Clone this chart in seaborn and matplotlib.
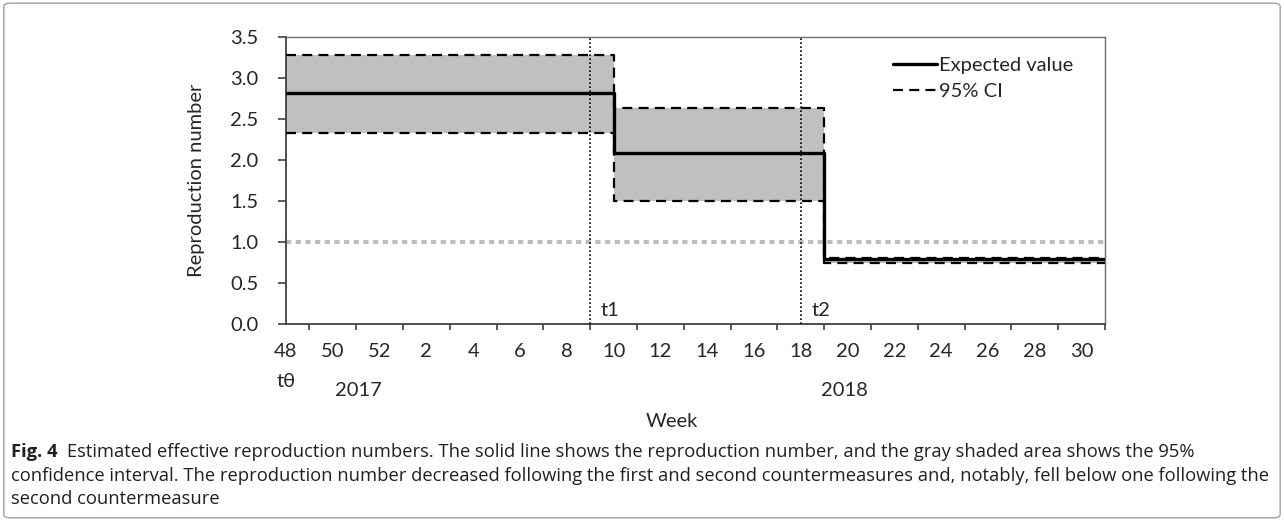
import numpy as np
import pandas as pd
import matplotlib
matplotlib.use("Agg")
import matplotlib.pyplot as plt
from matplotlib.patches import FancyBboxPatch
import seaborn as sns

# change points (year, week) and estimates for each period
period_starts = [(2017, 48), (2018, 10), (2018, 19)]
period_end = (2018, 31)
expected = [2.81, 2.08, 0.79]
ci_low = [2.33, 1.50, 0.74]
ci_high = [3.28, 2.63, 0.81]

# countermeasures
t1_week = (2018, 9)
t2_week = (2018, 18)

tick_labels = ["48", "50", "52", "2", "4", "6", "8", "10", "12", "14", "16",
               "18", "20", "22", "24", "26", "28", "30"]


def wpos(yw):
    # week index counted from week 48 of 2017 (2017 has 52 weeks)
    year, week = yw
    return week - 48 if year == 2017 else week + 4


xs = [wpos(p) for p in period_starts] + [wpos(period_end)]
df = pd.DataFrame({
    "x": xs,
    "exp": expected + expected[-1:],
    "lo": ci_low + ci_low[-1:],
    "hi": ci_high + ci_high[-1:],
})

sns.set_style("white")
plt.rcParams["font.family"] = ["Lato", "DejaVu Sans"]

fig = plt.figure(figsize=(12.84, 5.21), dpi=100)
ax = fig.add_axes([0.2227, 0.3781, 0.6379, 0.5514])

ax.fill_between(df["x"], df["lo"], df["hi"], step="post", color="#c0c0c0", lw=0, zorder=1)
ax.axhline(1.0, color="#bdbdbd", lw=2.9, ls=(0, (1.3, 1.1)), zorder=2)
for t in [t1_week, t2_week]:
    ax.axvline(wpos(t), color="black", lw=1.2, ls=(0, (1, 1.4)), zorder=3)

sns.lineplot(data=df, x="x", y="hi", drawstyle="steps-post", color="black", lw=1.6,
             ls=(0, (4.5, 2.8)), ax=ax, label="95% CI", zorder=4)
sns.lineplot(data=df, x="x", y="lo", drawstyle="steps-post", color="black", lw=1.6,
             ls=(0, (4.5, 2.8)), ax=ax, zorder=4)
sns.lineplot(data=df, x="x", y="exp", drawstyle="steps-post", color="black", lw=2.4,
             ax=ax, label="Expected value", zorder=5)

ax.set_xlim(0, wpos(period_end))
ax.set_ylim(0, 3.5)
ax.set_xticks(np.arange(0, 35, 2))
ax.set_xticklabels(tick_labels)
ax.set_xticks(np.arange(0, 36, 1), minor=True)
ax.set_yticks(np.arange(0, 3.51, 0.5))
ax.set_yticklabels([f"{v:.1f}" for v in np.arange(0, 3.51, 0.5)])
ax.tick_params(axis="both", labelsize=14.5, colors="#262626", direction="out")
ax.tick_params(axis="x", which="major", length=6, width=1.2, pad=8, color="#404040")
ax.tick_params(axis="x", which="minor", length=4, width=1.2, color="#404040", bottom=True)
ax.tick_params(axis="y", length=6, width=1.2, pad=14, color="#404040", left=True)

for side in ["left", "bottom"]:
    ax.spines[side].set_color("#404040")
    ax.spines[side].set_linewidth(1.3)
for side in ["top", "right"]:
    ax.spines[side].set_color("#6e6e6e")
    ax.spines[side].set_linewidth(1.0)

ax.set_xlabel("")
ax.set_ylabel("Reproduction number", fontsize=14.5, color="#262626")
ax.yaxis.set_label_coords(-0.099, 0.5)

trans = ax.get_xaxis_transform()
ax.text(16.5, -0.34, "Week", transform=trans, ha="center", va="center", fontsize=14.5, color="#262626")
ax.text(0, -0.2, "tθ", transform=trans, ha="center", va="center", fontsize=14.5, color="#262626")
ax.text(3.1, -0.23, "2017", transform=trans, ha="center", va="center", fontsize=14.5, color="#262626")
ax.text(23.85, -0.23, "2018", transform=trans, ha="center", va="center", fontsize=14.5, color="#262626")
ax.text(wpos(t1_week) + 0.45, 0.17, "t1", ha="left", va="center", fontsize=14.5, color="#262626")
ax.text(wpos(t2_week) + 0.45, 0.17, "t2", ha="left", va="center", fontsize=14.5, color="#262626")

handles, labels = ax.get_legend_handles_labels()
order = [labels.index("Expected value"), labels.index("95% CI")]
ax.legend([handles[i] for i in order], [labels[i] for i in order], loc="upper left",
          bbox_to_anchor=(0.741, 0.93), frameon=False, fontsize=14.5, handlelength=2.2,
          handletextpad=0.1, borderpad=0, borderaxespad=0, labelspacing=0.45)

# caption
cap_kw = dict(fontsize=13.2, color="#231f20", family=["Open Sans", "DejaVu Sans"], va="center")
fig.canvas.draw()
bold = fig.text(0.0085, 0.1324, "Fig. 4", fontweight="bold", **cap_kw)
bb = bold.get_window_extent(renderer=fig.canvas.get_renderer())
x_after = (bb.x1 + 10) / fig.bbox.width
fig.text(x_after, 0.1324, "Estimated effective reproduction numbers. The solid line shows the reproduction "
         "number, and the gray shaded area shows the 95%", **cap_kw)
fig.text(0.0085, 0.0864, "confidence interval. The reproduction number decreased following the first and "
         "second countermeasures and, notably, fell below one following the", **cap_kw)
fig.text(0.0085, 0.0422, "second countermeasure", **cap_kw)

border = FancyBboxPatch((0.003, 0.006), 0.994, 0.988, boxstyle="round,pad=0,rounding_size=0.006",
                        transform=fig.transFigure, fill=False, ec="#a0a0a0", lw=1.0)
fig.patches.append(border)

fig.savefig("out.png", dpi=100)
